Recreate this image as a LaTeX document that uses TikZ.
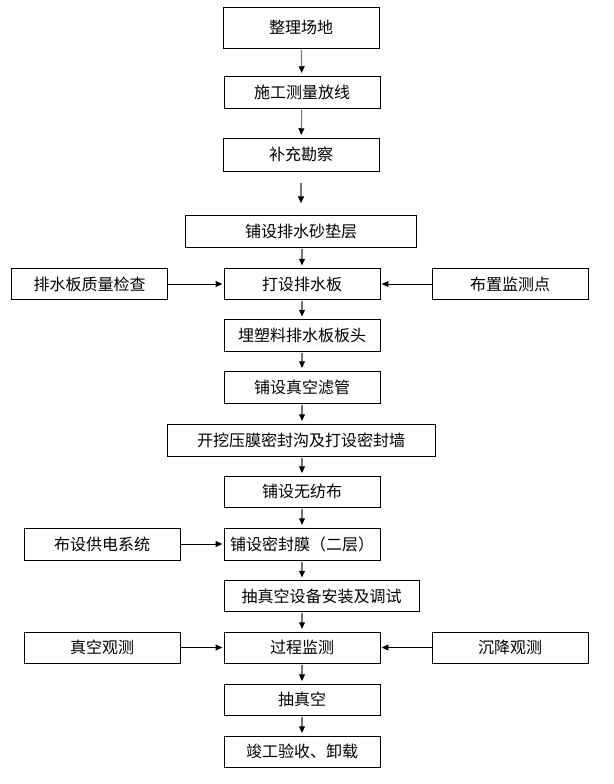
\documentclass[tikz,border=0pt]{standalone}
\usepackage{fontspec}
\newfontfamily\cjk{Noto Sans CJK SC}
\usetikzlibrary{arrows.meta,positioning}
\tikzset{
  kuang/.style={rectangle, draw=black, line width=0.6pt, fill=white,
                minimum width=117pt, minimum height=24pt, inner sep=0pt,
                align=center, font=\cjk\fontsize{12pt}{14pt}\selectfont},
  jiantou/.style={-{Triangle[length=5pt,width=4.5pt,color=black]}, line width=0.8pt,
                  black!55, shorten <=1pt, shorten >=2pt},
  cejiantou/.style={-{Triangle[length=5pt,width=4.5pt]}, line width=0.6pt, black,
                    shorten >=1pt},
}

\begin{document}
\begin{tikzpicture}[x=0.75pt,y=-0.75pt]
  \useasboundingbox (0,0) rectangle (613,784);
  % main column
  \node[kuang, minimum height=30.75pt] (a) at (301,27.5) {整理场地};
  \node[kuang] (b) at (302,92) {施工测量放线};
  \node[kuang, minimum height=24.75pt] (c) at (301,154.5) {补充勘察};
  \node[kuang, minimum width=173.25pt] (d) at (301,231.5) {铺设排水砂垫层};
  \node[kuang, minimum height=23.25pt] (e) at (302,284) {打设排水板};
  \node[kuang] (f) at (302,335.5) {埋塑料排水板板头};
  \node[kuang] (g) at (302,387) {铺设真空滤管};
  \node[kuang, minimum width=201pt] (h) at (301,440) {开挖压膜密封沟及打设密封墙};
  \node[kuang, minimum height=23.25pt] (i) at (302,491.5) {铺设无纺布};
  \node[kuang] (j) at (302,544) {铺设密封膜（二层）};
  \node[kuang, minimum width=146.25pt, minimum height=23.25pt] (k) at (321.5,596) {抽真空设备安装及调试};
  \node[kuang, minimum height=23.25pt] (l) at (302,647.5) {过程监测};
  \node[kuang, minimum height=23.25pt] (m) at (302,699.5) {抽真空};
  \node[kuang, minimum height=23.25pt] (n) at (302,751.5) {竣工验收、卸载};
  % side boxes
  \node[kuang, minimum height=23.25pt] (eL) at (89.5,284) {排水板质量检查};
  \node[kuang, minimum height=23.25pt] (eR) at (510,284) {布置监测点};
  \node[kuang] (jL) at (102,544) {布设供电系统};
  \node[kuang, minimum height=23.25pt] (lL) at (102,647.5) {真空观测};
  \node[kuang, minimum height=23.25pt] (lR) at (510,647.5) {沉降观测};
  % arrows
  \draw[jiantou] (a) -- (b);
  \draw[jiantou] (b) -- (c);
  \draw[jiantou, shorten <=9pt, shorten >=9pt] (c.south) -- (c.south |- d.north);
  \draw[jiantou] (d.south -| e) -- (e);
  \draw[jiantou] (e) -- (f);
  \draw[jiantou] (f) -- (g);
  \draw[jiantou] (g) -- (g |- h.north);
  \draw[jiantou] (h.south -| i) -- (i);
  \draw[jiantou] (i) -- (j);
  \draw[jiantou] (j) -- (j |- k.north);
  \draw[jiantou] (k.south -| l) -- (l);
  \draw[jiantou] (l) -- (m);
  \draw[jiantou] (m) -- (n);
  \draw[cejiantou] (eL) -- (e);
  \draw[cejiantou] (eR) -- (e);
  \draw[cejiantou] (jL) -- (j);
  \draw[cejiantou] (lL) -- (l);
  \draw[cejiantou] (lR) -- (l);
\end{tikzpicture}
\end{document}
